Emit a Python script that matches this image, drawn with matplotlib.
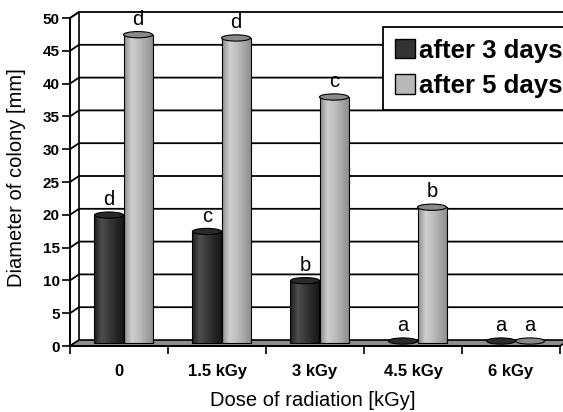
import matplotlib
matplotlib.use("Agg")
import matplotlib.pyplot as plt
import numpy as np
from matplotlib.patches import Polygon, Ellipse, Patch
from matplotlib.colors import LinearSegmentedColormap

plt.rcParams['font.family'] = ['Liberation Sans', 'DejaVu Sans']

doses = ['0', '1.5 kGy', '3 kGy', '4.5 kGy', '6 kGy']
after3 = [19.5, 17.0, 9.5, 0.3, 0.3]
after5 = [47.0, 46.5, 37.5, 20.7, 0.3]
letters3 = ['d', 'c', 'b', 'a', 'a']
letters5 = ['d', 'd', 'c', 'b', 'a']
yticks = [0, 5, 10, 15, 20, 25, 30, 35, 40, 45, 50]

W, H = 563, 412
fig = plt.figure(figsize=(W / 100, H / 100), dpi=100)
ax = fig.add_axes([70 / W, (H - 346) / H, 490 / W, 328 / H])
n = len(doses)
ax.set_xlim(0, n)
ax.set_ylim(0, 50)

# pseudo 3d depth, in data units
dx = 9 / (490 / n)
dy = 6 / (328 / 50)

# left wall, back wall, floor
ax.add_patch(Polygon([(0, 0), (dx, dy), (dx, 50 + dy), (0, 50)], closed=True,
                     facecolor='white', edgecolor='black', lw=1.2, clip_on=False, zorder=0))
ax.add_patch(Polygon([(0, 0), (n, 0), (n + dx, dy), (dx, dy)], closed=True,
                     facecolor='#8e8e8e', edgecolor='black', lw=1.2, clip_on=False, zorder=1))
for v in yticks[1:]:
    ax.plot([0, dx, n + dx], [v, v + dy, v + dy], color='black', lw=1.3,
            clip_on=False, zorder=0.5)

bw = 0.296
x = np.arange(n) + 0.5 + dx / 2
x3 = x - bw / 2
x5 = x + bw / 2

cm3 = LinearSegmentedColormap.from_list('c3', ['#1c1c1c', '#4e4e4e', '#3a3a3a', '#262626', '#161616'])
cm5 = LinearSegmentedColormap.from_list('c5', ['#8c8c8c', '#cfcfcf', '#bdbdbd', '#a6a6a6', '#8a8a8a'])
grad = np.linspace(0, 1, 64).reshape(1, -1)

def cylinders(xs, vals, cmap, topcol, labels):
    bars = ax.bar(xs, vals, width=bw, bottom=dy / 2, color='none',
                  edgecolor='black', lw=0.8, zorder=3)
    for b, xc, v, lab in zip(bars, xs, vals, labels):
        if v > 1:
            im = ax.imshow(grad, cmap=cmap, aspect='auto', zorder=2.5,
                           extent=[xc - bw / 2, xc + bw / 2, dy / 2, v + dy / 2])
            im.set_clip_path(b)
        else:
            b.set_visible(False)
        ax.add_patch(Ellipse((xc, v + dy / 2), bw, 0.95, facecolor=topcol,
                             edgecolor='black', lw=0.8, zorder=4))
        ax.text(xc, v + dy / 2 + 0.9, lab, ha='center', va='bottom',
                fontsize=14.5, zorder=5)

cylinders(x3, after3, cm3, '#2a2a2a', letters3)
cylinders(x5, after5, cm5, '#8a8a8a', letters5)
ax.set_xlim(0, n)
ax.set_ylim(0, 50)

for s in ['top', 'right']:
    ax.spines[s].set_visible(False)
ax.spines['left'].set_linewidth(1.3)
ax.spines['bottom'].set_linewidth(1.3)
ax.spines['left'].set_zorder(6)
ax.spines['bottom'].set_zorder(6)

ax.set_yticks(yticks)
ax.set_yticklabels([str(v) for v in yticks], fontsize=11, fontweight='bold')
ax.tick_params(axis='y', direction='out', length=6, width=1.2, pad=1.5)
ax.set_xticks(np.arange(n + 1))
ax.set_xticklabels([])
ax.set_xticks(np.arange(n) + 0.5, minor=True)
ax.set_xticklabels(doses, minor=True, fontsize=12, fontweight='bold')
ax.tick_params(axis='x', which='major', direction='out', length=6, width=1.2)
ax.tick_params(axis='x', which='minor', length=0, pad=13)

fig.text(313 / W, 1 - 400 / H, 'Dose of radiation [kGy]', ha='center', va='center', fontsize=14.5)
fig.text(17 / W, 1 - 178 / H, 'Diameter of colony [mm]', ha='center', va='center',
         rotation=90, fontsize=14.5)

handles = [Patch(facecolor='#333333', edgecolor='black', lw=1),
           Patch(facecolor='#b8b8b8', edgecolor='black', lw=1)]
leg = fig.legend(handles, ['after 3 days', 'after 5 days'], loc='upper left',
                 bbox_to_anchor=(383 / W, 1 - 27 / H),
                 prop={'size': 18.5, 'weight': 'bold'}, frameon=True, fancybox=False,
                 edgecolor='black', framealpha=1, handlelength=0.8, handleheight=0.8,
                 handletextpad=0.15, borderpad=0.45, labelspacing=0.45, borderaxespad=0)
leg.get_frame().set_linewidth(1.3)

fig.savefig('out.png', dpi=100)
